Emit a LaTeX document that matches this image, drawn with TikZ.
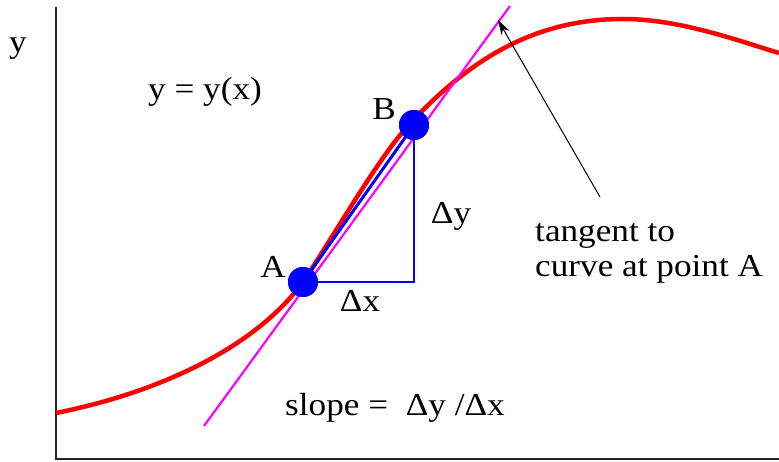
\documentclass[tikz,border=0pt]{standalone}
\usepackage{fontspec}
\setmainfont{Liberation Serif}
\usetikzlibrary{arrows.meta}
\definecolor{mag}{RGB}{255,0,255}
\begin{document}
\begin{tikzpicture}[x=1pt,y=-1pt,
  lbl/.style={inner sep=0pt,anchor=base,font=\fontsize{32}{36}\selectfont,xscale=1.1},
  dot/.style={circle,fill=blue,draw=none,minimum size=30pt,inner sep=0pt},
  axis/.style={draw=black!85,line width=1.8pt},
  curve/.style={draw=red,line width=4.5pt},
  tang/.style={draw=mag,line width=2.2pt},
  chord/.style={draw=blue,line width=3pt},
  leg/.style={draw=blue,line width=1.3pt},
  pointer/.style={draw=black,line width=1pt,-{Stealth[length=15pt,width=9pt]}}]
\useasboundingbox (0,0) rectangle (779,462);
% axes
\coordinate (ytop) at (56,7);
\coordinate (orig) at (56,459);
\coordinate (xend) at (779,459);
\draw[axis] (ytop) -- (orig) -- (xend);
% curve
\coordinate (c0) at (56,413);
\coordinate (cA) at (303,282);
\coordinate (cB) at (407,127);
\coordinate (cP) at (623,19);
\coordinate (cE) at (779,53);
\draw[curve] (c0) .. controls (166,391) and (258,344) .. (cA)
  .. controls (330,242) and (377,160) .. (cB)
  .. controls (467,61) and (533,19) .. (cP)
  .. controls (680,19) and (739,41) .. (cE);
% tangent
\coordinate (t1) at (204,426);
\coordinate (t2) at (510,6);
\draw[tang] (t1) -- (t2);
% points
\node[dot] (A) at (303,282) {};
\node[dot] (B) at (414,125) {};
\coordinate (C) at (414,282);
\draw[chord] (A.center) -- (B.center);
\draw[leg] (A.center) -- (C) -- (B.center);
\node[dot] at (A.center) {};
\node[dot] at (B.center) {};
% arrow
\coordinate (arrS) at (600,197);
\coordinate (arrT) at (498,20);
\draw[pointer] (arrS) -- (arrT);
% labels
\node[lbl] (ylab) at (18,53) {y};
\node[lbl] (func) at (205,100) {y = y(x)};
\node[lbl] (Blab) at (384,120) {B};
\node[lbl] (Alab) at (273,278) {A};
\node[lbl] (dx) at (360,312) {Δx};
\node[lbl] (dy) at (451,224) {Δy};
\node[lbl,anchor=base west] (tan1) at (535,242) {tangent to};
\node[lbl,anchor=base west] (tan2) at (535,277) {curve at point A};
\node[lbl,anchor=base west] (slope) at (285,415) {slope =\ \ Δy /Δx};
\end{tikzpicture}
\end{document}
